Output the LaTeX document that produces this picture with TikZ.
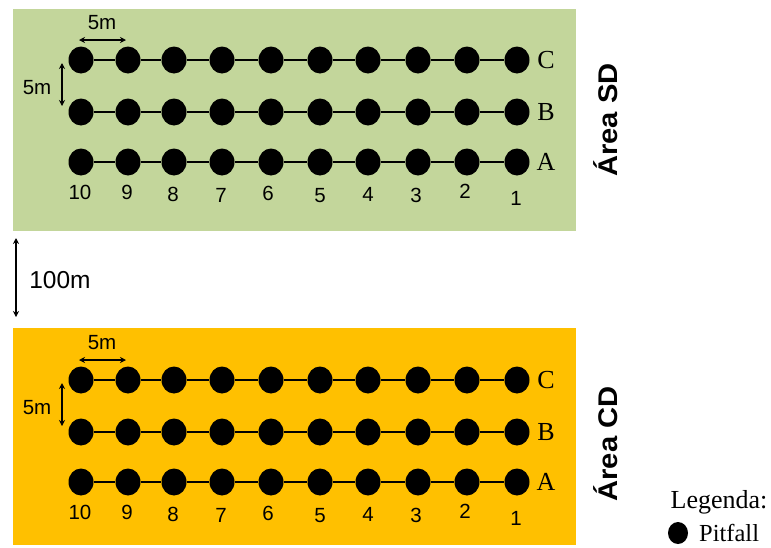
\documentclass[tikz,border=0pt]{standalone}
\usepackage{fontspec}
\setmainfont{Liberation Serif}
\setsansfont{Liberation Sans}
\usetikzlibrary{arrows.meta,shapes.geometric}
\definecolor{sdgreen}{RGB}{195,214,155}
\definecolor{cdorange}{RGB}{255,192,0}
\tikzset{
  pit/.style={ellipse,fill=black,minimum width=25pt,minimum height=27pt,inner sep=0pt},
  legdot/.style={ellipse,fill=black,minimum width=20pt,minimum height=22pt,inner sep=0pt},
  link/.style={draw=black,line width=1.4pt},
  meas/.style={line width=1.2pt,{Stealth[length=6pt,width=6pt]}-{Stealth[length=6pt,width=6pt]}},
  num/.style={font=\sffamily\fontsize{20.5}{24}\selectfont,inner sep=0pt},
  rowlab/.style={font=\fontsize{26}{30}\selectfont,inner sep=0pt},
  arealab/.style={font=\sffamily\bfseries\fontsize{27}{31}\selectfont,rotate=90,inner sep=0pt},
  leglab/.style={font=\fontsize{26}{30}\selectfont,inner sep=0pt}
}
\begin{document}
\begin{tikzpicture}[x=1pt,y=-1pt]
\useasboundingbox (0,0) rectangle (771,547);
\fill[sdgreen] (13,9) rectangle (576,231);
\fill[cdorange] (13,328) rectangle (576,545);
\foreach \ar/\yo in {s/0,o/320}{
  \foreach \r/\ry in {C/60,B/112,A/162}{
    \foreach \n/\x in {10/81,9/128,8/174,7/222,6/271,5/320,4/368,3/418,2/467,1/517}{
      \node[pit] (\ar\r\n) at (\x,\ry+\yo) {};
    }
    \foreach \a/\b in {10/9,9/8,8/7,7/6,6/5,5/4,4/3,3/2,2/1}{
      \draw[link] (\ar\r\a) -- (\ar\r\b);
    }
    \node[rowlab] (\ar lab\r) at (546,\ry+\yo) {\r};
  }
  \foreach \n/\x/\dy in {10/80/192,9/127/192,8/173/194,7/221/195,6/268/193,5/320/196,4/368/194,3/416/195,2/465/191,1/516/198}{
    \node[num] (\ar num\n) at (\x,\dy+\yo) {\n};
  }
  \coordinate (\ar h1) at (79,40+\yo);
  \coordinate (\ar h2) at (126,40+\yo);
  \draw[meas] (\ar h1) -- (\ar h2);
  \node[num] (\ar hlab) at (102,23+\yo) {5m};
  \coordinate (\ar v1) at (62,63+\yo);
  \coordinate (\ar v2) at (62,106+\yo);
  \draw[meas] (\ar v1) -- (\ar v2);
  \node[num] (\ar vlab) at (37,88+\yo) {5m};
}
\node[arealab] (areaSD) at (606,120) {\scalebox{1.08}[1]{Área SD}};
\node[arealab] (areaCD) at (606,444) {\scalebox{1.08}[1]{Área CD}};
\coordinate (g1) at (16,238);
\coordinate (g2) at (16,317);
\draw[meas] (g1) -- (g2);
\node[num,font=\sffamily\fontsize{24.5}{28}\selectfont] (glab) at (60,280) {100m};
\node[leglab] (legtitle) at (719,502) {Legenda:};
\node[legdot] (legdot) at (678,533) {};
\node[leglab,anchor=west,font=\fontsize{24.5}{28}\selectfont] (legpit) at (699,533) {Pitfall};
\end{tikzpicture}
\end{document}
